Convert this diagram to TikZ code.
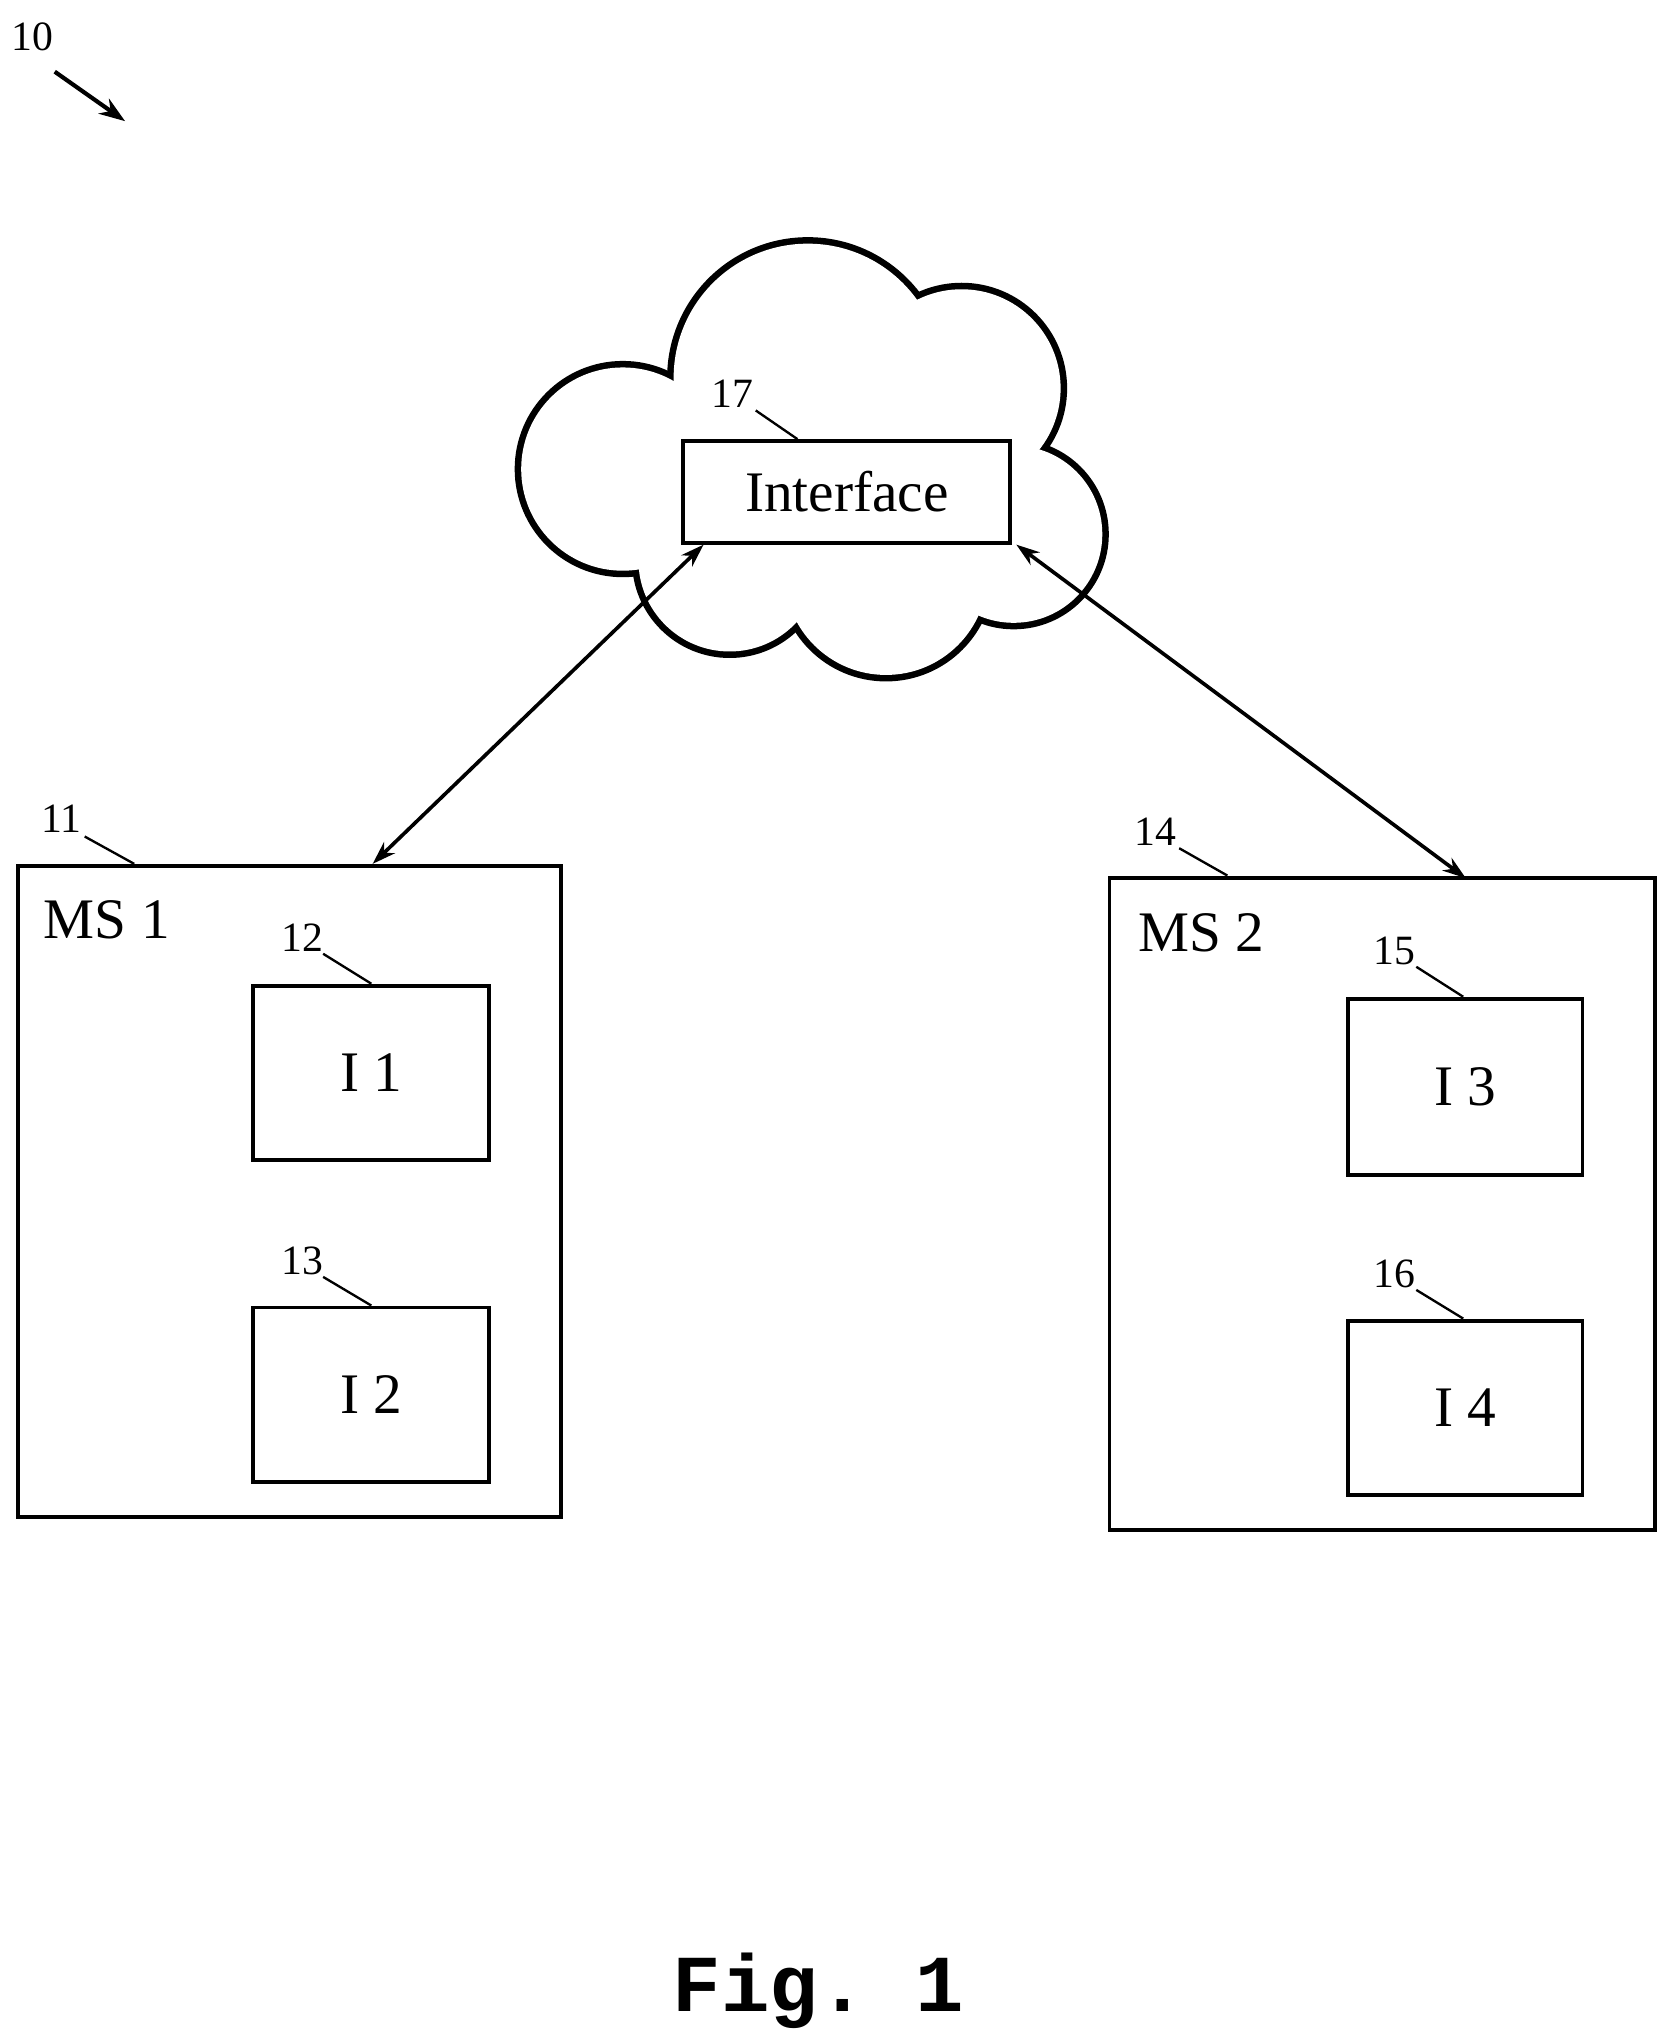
\documentclass[tikz,border=0pt]{standalone}
\usepackage{fontspec}
\setmainfont{Liberation Serif}
\setmonofont{Liberation Mono}
\usetikzlibrary{arrows.meta}
\begin{document}
\begin{tikzpicture}[x=0.5pt,y=-0.5pt,
  box/.style={draw,line width=1.5pt},
  lbl/.style={font=\fontsize{16}{16}\selectfont,inner sep=0pt},
  big/.style={font=\fontsize{22}{22}\selectfont,inner sep=0pt},
  lead/.style={line width=0.9pt},
  conn/.style={line width=1.4pt,{Stealth[length=9pt,width=6pt]}-{Stealth[length=9pt,width=6pt]}}]
\useasboundingbox (0,0) rectangle (1280,1558);
% cloud
\foreach \c/\r in {{(478,360)}/78,{(620,290)}/103,{(738,298)}/76,{(778,410)}/68,{(680,440)}/78,{(560,430)}/70}
  \draw[line width=5pt] \c circle (\r);
\foreach \c/\r in {{(478,360)}/78,{(620,290)}/103,{(738,298)}/76,{(778,410)}/68,{(680,440)}/78,{(560,430)}/70}
  \fill[white] \c circle (\r);
\node[box,fill=white,minimum width=125.5pt,minimum height=39pt,big] (if) at (650,377.5) {Interface};
\node[lbl] (l17) at (562,302) {17};
\draw[lead] (580,315) -- (612,337);
% MS1
\node[box,minimum width=208.5pt,minimum height=250pt] (ms1) at (222,914.5) {};
\node[big] (t1) at (82,706) {MS 1};
\node[lbl] (l11) at (47,628) {11};
\draw[lead] (65,642) -- (103,663);
\node[box,minimum width=90.5pt,minimum height=67pt,big] (i1) at (285,823.5) {I 1};
\node[lbl] (l12) at (232,720) {12};
\draw[lead] (248,732) -- (285,755);
\node[box,minimum width=90.5pt,minimum height=67pt,big] (i2) at (285,1070.5) {I 2};
\node[lbl] (l13) at (232,968) {13};
\draw[lead] (248,980) -- (285,1002);
% MS2
\node[box,minimum width=209.5pt,minimum height=250.5pt] (ms2) at (1061,924) {};
\node[big] (t2) at (922,716) {MS 2};
\node[lbl] (l14) at (887,638) {14};
\draw[lead] (905,651) -- (942,672);
\node[box,minimum width=90pt,minimum height=67.5pt,big] (i3) at (1124.5,834) {I 3};
\node[lbl] (l15) at (1070,730) {15};
\draw[lead] (1087,742) -- (1123,765);
\node[box,minimum width=90pt,minimum height=67pt,big] (i4) at (1124.5,1080.5) {I 4};
\node[lbl] (l16) at (1070,978) {16};
\draw[lead] (1087,990) -- (1123,1012);
% connectors
\coordinate (a1) at (540,418); \coordinate (b1) at (286,663);
\coordinate (a2) at (780,418); \coordinate (b2) at (1125,674);
\draw[conn] (a1) -- (b1);
\draw[conn] (a2) -- (b2);
% 10
\node[lbl] (l10) at (25,28) {10};
\coordinate (p10a) at (42,55); \coordinate (p10b) at (96,93);
\draw[line width=1.6pt,-{Stealth[length=10pt,width=7pt]}] (p10a) -- (p10b);
\node[font=\ttfamily\bfseries\fontsize{31}{31}\selectfont,inner sep=0pt] (fig) at (628,1528) {Fig. 1};
\end{tikzpicture}
\end{document}
